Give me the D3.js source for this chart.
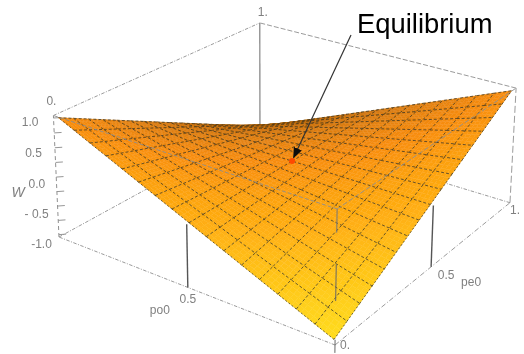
<!DOCTYPE html>
<html>
<head>
<meta charset="utf-8">
<title></title>
<script src="https://d3js.org/d3.v7.min.js"></script>
<style>
	html, body { margin: 0; background: #fff; }
	svg { display: block; }
	text { font-family: "Liberation Sans", Arial, sans-serif; fill: #808080; font-size: 11px; }
</style>
</head>
<body>
<script>

// grid positions of the surface mesh (both axes)
var gridSteps = [0, 0.0625, 0.125, 0.1875, 0.25, 0.3125, 0.375, 0.4375, 0.5, 0.5625, 0.625, 0.6875, 0.75, 0.8125, 0.875, 0.9375, 1];

// W, rows = po0, columns = pe0
var wValues = [
  [-1, -.875, -.75, -.625, -.5, -.375, -.25, -.125, 0, .125, .25, .375, .5, .625, .75, .875, 1],
  [-.875, -.766, -.656, -.547, -.438, -.328, -.219, -.109, 0, .109, .219, .328, .438, .547, .656, .766, .875],
  [-.75, -.656, -.563, -.469, -.375, -.281, -.188, -.094, 0, .094, .188, .281, .375, .469, .563, .656, .75],
  [-.625, -.547, -.469, -.391, -.313, -.234, -.156, -.078, 0, .078, .156, .234, .313, .391, .469, .547, .625],
  [-.5, -.438, -.375, -.313, -.25, -.188, -.125, -.063, 0, .063, .125, .188, .25, .313, .375, .438, .5],
  [-.375, -.328, -.281, -.234, -.188, -.141, -.094, -.047, 0, .047, .094, .141, .188, .234, .281, .328, .375],
  [-.25, -.219, -.188, -.156, -.125, -.094, -.063, -.031, 0, .031, .063, .094, .125, .156, .188, .219, .25],
  [-.125, -.109, -.094, -.078, -.063, -.047, -.031, -.016, 0, .016, .031, .047, .063, .078, .094, .109, .125],
  [0, 0, 0, 0, 0, 0, 0, 0, 0, 0, 0, 0, 0, 0, 0, 0, 0],
  [.125, .109, .094, .078, .063, .047, .031, .016, 0, -.016, -.031, -.047, -.063, -.078, -.094, -.109, -.125],
  [.25, .219, .188, .156, .125, .094, .063, .031, 0, -.031, -.063, -.094, -.125, -.156, -.188, -.219, -.25],
  [.375, .328, .281, .234, .188, .141, .094, .047, 0, -.047, -.094, -.141, -.188, -.234, -.281, -.328, -.375],
  [.5, .438, .375, .313, .25, .188, .125, .063, 0, -.063, -.125, -.188, -.25, -.313, -.375, -.438, -.5],
  [.625, .547, .469, .391, .313, .234, .156, .078, 0, -.078, -.156, -.234, -.313, -.391, -.469, -.547, -.625],
  [.75, .656, .563, .469, .375, .281, .188, .094, 0, -.094, -.188, -.281, -.375, -.469, -.563, -.656, -.75],
  [.875, .766, .656, .547, .438, .328, .219, .109, 0, -.109, -.219, -.328, -.438, -.547, -.656, -.766, -.875],
  [1, .875, .75, .625, .5, .375, .25, .125, 0, -.125, -.25, -.375, -.5, -.625, -.75, -.875, -1]
];

var equilibrium = [0.5, 0.5, 0];
var zTicks = [-1, -0.5, 0, 0.5, 1];
var zTickLabels = ["-1.0", "- 0.5", "0.0", "0.5", "1.0"];
var zMinorTicks = [-1, -0.75, -0.5, -0.25, 0, 0.25, 0.5, 0.75, 1];
var shadeDepths = [0, 0.5, 1, 1.5, 2];
var shadeColors = ["#ffdc1e", "#ffae12", "#f88d0c", "#d2760a", "#a85e06"];

var width = 524, height = 354;

var svg = d3.select("body").append("svg")
    .attr("width", width)
    .attr("height", height);

var defs = svg.append("defs");
defs.append("filter").attr("id", "soft")
    .attr("filterUnits", "userSpaceOnUse")
    .attr("x", 0).attr("y", 0)
    .attr("width", width).attr("height", height)
  .append("feGaussianBlur").attr("stdDeviation", 0.42);

var g = svg.append("g").attr("filter", "url(#soft)");

// data -> unit box, the box has a little padding around the surface
var xScale = d3.scaleLinear().domain([0, 1]).range([0.01, 0.99]);
var yScale = d3.scaleLinear().domain([0, 1]).range([0.01, 0.99]);
var zScale = d3.scaleLinear().domain([-1, 1]).range([0.02, 0.98]);

var shade = d3.scaleLinear().domain(shadeDepths).range(shadeColors);

// camera: projective map of the unit box to the screen
function project(nx, ny, nz) {
  var w = 1 + 0.1425 * nx + 0.2185 * ny - 0.03 * nz;
  return [
    (335 - 267.6 * nx + 286.4 * ny - 8 * nz) / w,
    (345 - 74.2 * nx - 98 * ny - 142.3 * nz) / w
  ];
}

function point(x, y, z) {
  return project(xScale(x), yScale(y), zScale(z));
}

var line = d3.line();

function edge(parent, a, b, stroke, dash, sw) {
  return parent.append("path")
      .attr("d", line([project.apply(null, a), project.apply(null, b)]))
      .attr("fill", "none")
      .attr("stroke", stroke)
      .attr("stroke-width", sw || 0.9)
      .attr("stroke-dasharray", dash);
}

var boxDash = "3.5 1.5 1 1.5", boxColor = "#8f8f8f";

// back and floor edges of the box, hidden by the surface where it passes over
edge(g, [1, 1, 0], [1, 1, 1], "#777", null, 1.1);
edge(g, [1, 0, 1], [1, 1, 1], boxColor, boxDash);
edge(g, [0, 1, 1], [1, 1, 1], boxColor, "5 2");
edge(g, [1, 0, 0], [1, 1, 0], boxColor, boxDash);
edge(g, [0, 1, 0], [1, 1, 0], boxColor, boxDash);
edge(g, [0, 0, 0], [1, 0, 0], boxColor, boxDash);
edge(g, [0, 0, 0], [0, 1, 0], boxColor, "5 2 1 2");
edge(g, [0, 1, 0], [0, 1, 1], boxColor, "7 3");
edge(g, [1, 0, 0], [1, 0, 1], boxColor, "4 3", 1);

// z ticks on the left edge
zMinorTicks.forEach(function(t) {
  var nz = zScale(t);
  edge(g, [1, 0, nz], [0.985, 0.015, nz], "#8a8a8a", null, 0.9);
});

// surface, painted from the back corner to the front corner
var n = gridSteps.length - 1, sub = 4;
var cells = [];
d3.range(n).forEach(function(i) {
  d3.range(n).forEach(function(j) { cells.push([i, j]); });
});
cells.sort(function(a, b) { return (b[0] + b[1]) - (a[0] + a[1]); });

function surfaceAt(i, j, u, v) {
  var x = gridSteps[i] + u * (gridSteps[i + 1] - gridSteps[i]);
  var y = gridSteps[j] + v * (gridSteps[j + 1] - gridSteps[j]);
  var z = (1 - u) * (1 - v) * wValues[i][j] + u * (1 - v) * wValues[i + 1][j]
        + (1 - u) * v * wValues[i][j + 1] + u * v * wValues[i + 1][j + 1];
  return point(x, y, z);
}

var surface = g.append("g");
var meshColor = "#2e2c22", meshDash = "3 2";

cells.forEach(function(c) {
  var i = c[0], j = c[1];
  d3.range(sub).forEach(function(a) {
    d3.range(sub).forEach(function(b) {
      var u0 = a / sub, u1 = (a + 1) / sub, v0 = b / sub, v1 = (b + 1) / sub;
      var col = shade(gridSteps[i] + gridSteps[j] + (u0 + u1) / 2 / n + (v0 + v1) / 2 / n);
      surface.append("path")
          .attr("d", line([surfaceAt(i, j, u0, v0), surfaceAt(i, j, u1, v0), surfaceAt(i, j, u1, v1), surfaceAt(i, j, u0, v1)]) + "Z")
          .attr("fill", col)
          .attr("stroke", col)
          .attr("stroke-width", 0.4);
    });
  });
  // far sides of the cell, the near sides belong to the next cell in front
  surface.append("path")
      .attr("d", line([surfaceAt(i, j, 1, 0), surfaceAt(i, j, 1, 1), surfaceAt(i, j, 0, 1)]))
      .attr("fill", "none")
      .attr("stroke", meshColor)
      .attr("stroke-opacity", 0.8)
      .attr("stroke-width", 0.9)
      .attr("stroke-dasharray", meshDash);
});

// near rim of the surface
d3.range(n).forEach(function(k) {
  [[surfaceAt(k, 0, 0, 0), surfaceAt(k, 0, 1, 0)], [surfaceAt(0, k, 0, 0), surfaceAt(0, k, 0, 1)]].forEach(function(seg) {
    surface.append("path")
        .attr("d", line(seg))
        .attr("fill", "none")
        .attr("stroke", meshColor)
        .attr("stroke-width", 0.7)
        .attr("stroke-dasharray", "2 2");
  });
});

// front edges of the box show through the mesh
edge(g, [0, 0, 1], [1, 0, 1], "#8d8d8d", "4 2");
edge(g, [0, 0, 1], [0, 1, 1], "#8d8d8d", "5 2");
edge(g, [0, 0, 1], [0, 0, 0.83], "#777", null, 1);
edge(g, [0, 0, 0.6], [0, 0, 0.33], "#666", null, 1);
edge(g, [0, 0, 0.04], [0, 0, -0.06], "#666", null, 1);

// 0.5 ticks stand on the floor and reach up to the rim
edge(g, [xScale(0.5), 0, 0], [xScale(0.5), 0, zScale(0)], "#555", null, 1.4);
edge(g, [0, yScale(0.5), 0], [0, yScale(0.5), zScale(0)], "#555", null, 1.4);

function label(txt, p, dx, dy, anchor, size, style) {
  return g.append("text")
      .attr("x", p[0] + dx)
      .attr("y", p[1] + dy)
      .attr("text-anchor", anchor || "middle")
      .style("font-size", (size || 11) + "px")
      .style("font-style", style || "normal")
      .text(txt);
}

zTicks.forEach(function(t, i) {
  label(zTickLabels[i], project(1, 0, zScale(t)), -11 - 4 * t, 10.5 - 2.5 * t, "end", 12);
});

label("0.", project(1, 0, 1), -2, -11, "middle", 12);
label("1.", project(1, 1, 1), 3, -7, "middle", 12);
label("0.", project(0, 0, 0), 10, 4, "middle", 12);
label("1.", project(0, 1, 0), 5, 11, "middle", 12);
label("0.5", project(xScale(0.5), 0, 0), 0, 16, "middle", 12);
label("0.5", project(0, yScale(0.5), 0), 15, 12, "middle", 12);
label("po0", project(xScale(0.5), 0, 0), -28, 27, "middle", 12);
label("pe0", project(0, yScale(0.5), 0), 40, 19, "middle", 12);
label("W", project(1, 0, 0.5), -38, 20, "middle", 14, "italic");

// equilibrium marker and annotation
var eq = point.apply(null, equilibrium);
var tail = [351, 35];
var tip = [eq[0] + 1.6, eq[1] - 3.5];

defs.append("marker").attr("id", "head")
    .attr("viewBox", "0 0 10 10").attr("refX", 9).attr("refY", 5)
    .attr("markerUnits", "userSpaceOnUse")
    .attr("markerWidth", 11).attr("markerHeight", 11)
    .attr("orient", "auto")
  .append("path").attr("d", "M0,1L10,5L0,9Z").attr("fill", "#111");

g.append("circle")
    .attr("cx", eq[0]).attr("cy", eq[1]).attr("r", 3)
    .attr("fill", "#ff4a05");

g.append("path")
    .attr("d", line([tail, tip]))
    .attr("stroke", "#333")
    .attr("stroke-width", 1.2)
    .attr("fill", "none")
    .attr("marker-end", "url(#head)");

g.append("text")
    .attr("x", 357)
    .attr("y", 33)
    .style("font-size", "27.4px")
    .style("fill", "#000")
    .text("Equilibrium");

</script>
</body>
</html>
